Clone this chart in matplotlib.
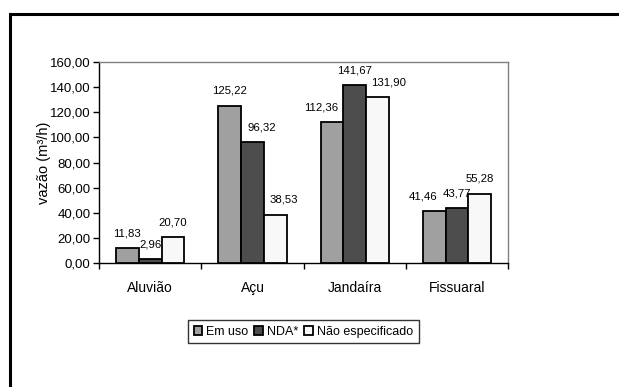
import matplotlib
matplotlib.use("Agg")
import matplotlib.pyplot as plt
import numpy as np
from matplotlib.patches import Rectangle
from matplotlib.ticker import FixedLocator, FuncFormatter

plt.rcParams['font.family'] = ['Liberation Sans', 'DejaVu Sans']

categories = ["Aluvião", "Açu", "Jandaíra", "Fissuaral"]
series_names = ["Em uso", "NDA*", "Não especificado"]
em_uso = [11.83, 125.22, 112.36, 41.46]
nda = [2.96, 96.32, 141.67, 43.77]
nao_especificado = [20.70, 38.53, 131.90, 55.28]
series_values = [em_uso, nda, nao_especificado]
series_colors = ["#a0a0a0", "#4d4d4d", "#f8f8f8"]
y_ticks = [0, 20, 40, 60, 80, 100, 120, 140, 160]

# horizontal nudges (points) for value labels, per series and category
label_nudge = [
    [0, 0, -8, -8],
    [0, 7, 0, 0],
    [0, 6, 8, 0],
]

fig = plt.figure(figsize=(6.19, 3.87), dpi=100)
ax = fig.add_axes([0.160, 0.320, 0.661, 0.520])

x = np.arange(len(categories))
width = 1 / 4.5
for i, (name, vals, col) in enumerate(zip(series_names, series_values, series_colors)):
    pos = x + (i - 1) * width
    ax.bar(pos, vals, width=width, color=col, edgecolor="black", linewidth=1.3,
           label=name, zorder=3)
    for j, (px_, v) in enumerate(zip(pos, vals)):
        ax.annotate(f"{v:.2f}".replace(".", ","), (px_, v),
                    xytext=(label_nudge[i][j], 7),
                    textcoords="offset points", ha="center", va="bottom",
                    fontsize=8.2, zorder=4)

ax.set_xlim(-0.5, len(categories) - 0.5)
ax.set_ylim(0, 160)
ax.yaxis.set_major_locator(FixedLocator(y_ticks))
ax.yaxis.set_major_formatter(FuncFormatter(lambda v, p: f"{v:.2f}".replace(".", ",")))
ax.tick_params(axis="y", direction="out", length=4, width=1, labelsize=9.5, pad=2)

ax.set_xticks(x)
ax.set_xticklabels(categories, fontsize=10)
ax.tick_params(axis="x", which="major", length=0, pad=13)
ax.set_xticks(np.arange(-0.5, len(categories), 1.0), minor=True)
ax.tick_params(axis="x", which="minor", direction="out", length=4, width=1)

ax.set_ylabel("vazão (m³/h)", fontsize=10.5, labelpad=-1)

for side in ("top", "right"):
    ax.spines[side].set_color("#808080")
    ax.spines[side].set_linewidth(1)
for side in ("left", "bottom"):
    ax.spines[side].set_color("black")
    ax.spines[side].set_linewidth(1)

leg = fig.legend(loc="center", bbox_to_anchor=(0.49, 0.143), ncol=3,
                 fontsize=9, frameon=True, fancybox=False, edgecolor="black",
                 handlelength=0.7, handleheight=0.7, handletextpad=0.3,
                 columnspacing=0.5, borderpad=0.45, borderaxespad=0)
leg.get_frame().set_linewidth(1)

# outer chart frame running off the right and bottom edges
fig.patches.append(Rectangle((10 / 619, -0.1), 1.2, (387 - 14) / 387 + 0.1,
                             transform=fig.transFigure, fill=False,
                             edgecolor="black", linewidth=2.2, clip_on=False))

fig.savefig("out.png", dpi=100)
